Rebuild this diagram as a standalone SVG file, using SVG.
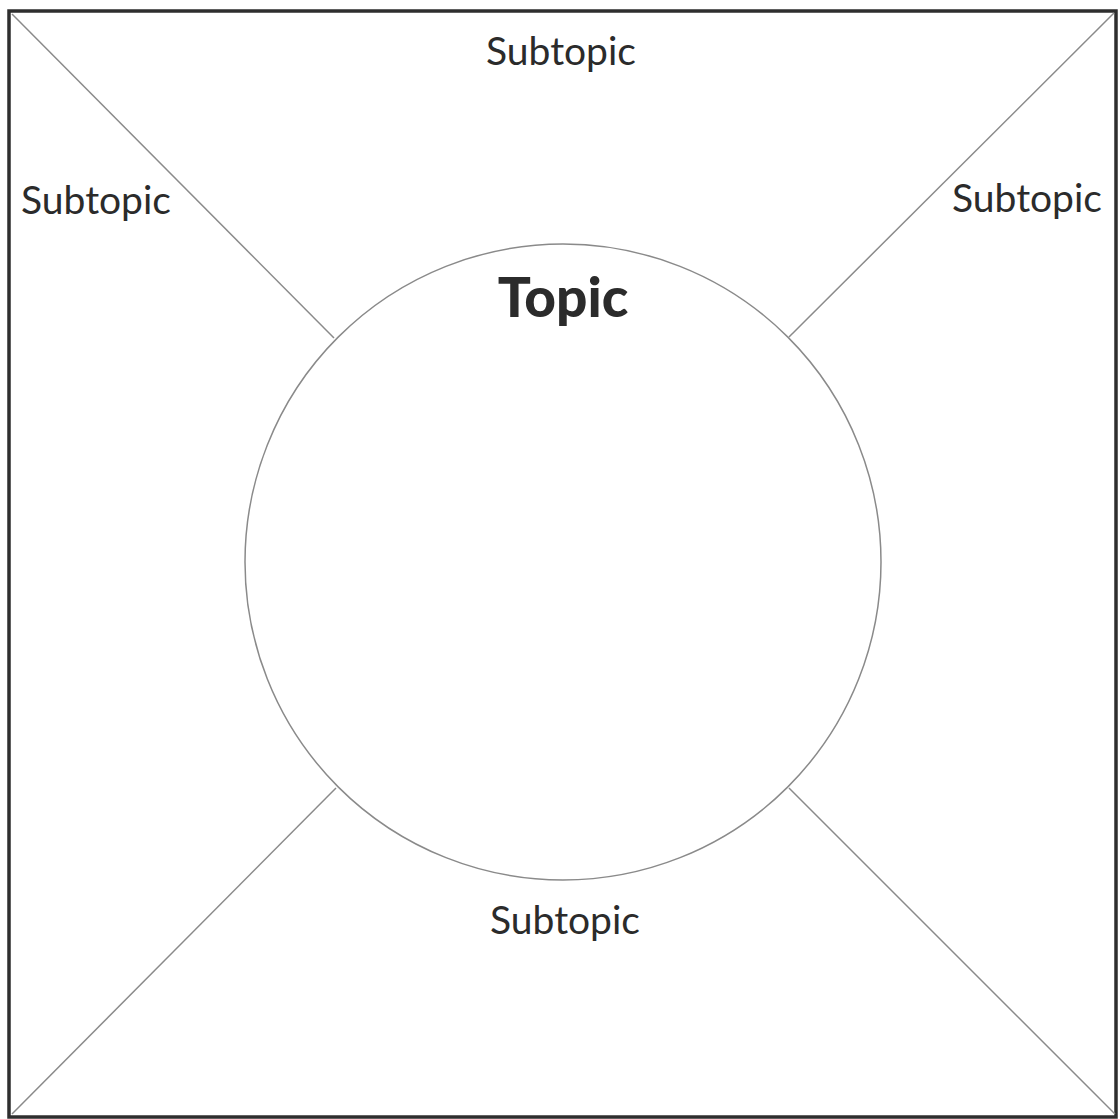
<svg xmlns="http://www.w3.org/2000/svg" width="1120" height="1119" viewBox="0 0 1120 1119">
<style>
.frame{fill:#fff;stroke:#2e2e2e;stroke-width:3.5}
.conn{stroke:#8a8a8a;stroke-width:1.5;fill:none}
.circ{fill:#fff;stroke:#8a8a8a;stroke-width:1.5}
.sub{font-family:Lato,"Open Sans",sans-serif;font-size:39px;fill:#2b2b2b;text-anchor:middle}
.topic{font-family:Lato,"Open Sans",sans-serif;font-size:55px;font-weight:900;fill:#2b2b2b;text-anchor:middle}
</style>
<rect class="frame" x="9" y="11" width="1107" height="1106"/>
<g id="connectors">
<line class="conn" x1="12" y1="14" x2="334" y2="338"/>
<line class="conn" x1="1114" y1="13" x2="789" y2="337"/>
<line class="conn" x1="12" y1="1114" x2="336" y2="788"/>
<line class="conn" x1="1115" y1="1114" x2="789" y2="788"/>
</g>
<g id="topic">
<circle class="circ" cx="563" cy="562" r="318"/>
<text class="topic" x="563" y="317">Topic</text>
</g>
<g id="subtopic-top"><text class="sub" x="561" y="65">Subtopic</text></g>
<g id="subtopic-left"><text class="sub" x="96" y="214">Subtopic</text></g>
<g id="subtopic-right"><text class="sub" x="1027" y="212">Subtopic</text></g>
<g id="subtopic-bottom"><text class="sub" x="565" y="934">Subtopic</text></g>
</svg>
